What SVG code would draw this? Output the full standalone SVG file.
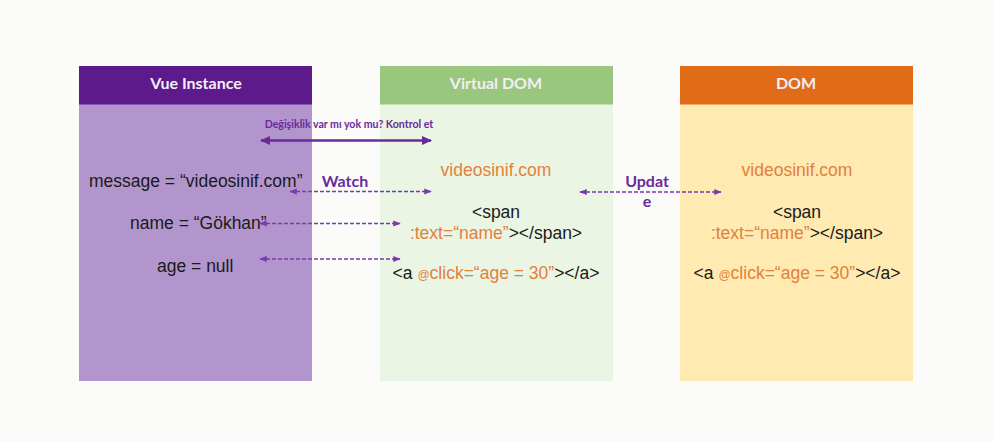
<svg xmlns="http://www.w3.org/2000/svg" width="994" height="442" viewBox="0 0 994 442">
  <style>
    .hdr{font-family:Lato,"Open Sans",sans-serif;font-weight:700;font-size:16px;fill:#F4EEF6;text-anchor:middle}
    .txt{font-family:"Liberation Sans",Arial,sans-serif;font-size:17.5px;fill:#1A1A1A}
    .mid{text-anchor:middle}
    .org{fill:#E3803D}
    .sm{font-size:12px}
    .lbl{font-family:Lato,"Open Sans",sans-serif;font-weight:700;fill:#6A2A9C}
    .dash{stroke:#7A3AAE;stroke-width:1.5;stroke-dasharray:4 2;fill:none}
    .solid{stroke:#6A2A9C;stroke-width:2.5;fill:none}
  </style>
  <defs>
    <marker id="ah" viewBox="0 0 10 10" refX="9" refY="5" markerWidth="5" markerHeight="5" orient="auto-start-reverse" markerUnits="strokeWidth">
      <path d="M0,1 L10,5 L0,9 Z" fill="#7A3AAE"/>
    </marker>
    <marker id="ahs" viewBox="0 0 10 10" refX="9" refY="5" markerWidth="4" markerHeight="4" orient="auto-start-reverse" markerUnits="strokeWidth">
      <path d="M0,0.5 L10,5 L0,9.5 Z" fill="#6A2A9C"/>
    </marker>
  </defs>
  <rect width="994" height="442" fill="#FBFBF9"/>

  <g id="vue-instance">
    <rect x="79" y="104" width="233" height="277" fill="#B395CD"/>
    <rect x="79" y="66" width="233" height="38.5" fill="#5C1A8A"/>
    <text class="hdr" x="196" y="89">Vue Instance</text>
    <text class="txt" x="89" y="187">message = “videosinif.com”</text>
    <text class="txt" x="130" y="228.5">name = “Gökhan”</text>
    <text class="txt" x="157" y="271.5">age = null</text>
  </g>

  <g id="virtual-dom">
    <rect x="380" y="104" width="233" height="277" fill="#EBF5E3"/>
    <rect x="380" y="66" width="233" height="38.5" fill="#9AC77E"/>
    <text class="hdr" x="496" y="89">Virtual DOM</text>
    <text class="txt mid org" x="496" y="176">videosinif.com</text>
    <text class="txt mid" x="496" y="218">&lt;span</text>
    <text class="txt mid" x="496" y="239"><tspan class="org">:text=“name”</tspan>&gt;&lt;/span&gt;</text>
    <text class="txt mid" x="496" y="279">&lt;a <tspan class="org sm">@</tspan><tspan class="org">click=“age = 30”</tspan>&gt;&lt;/a&gt;</text>
  </g>

  <g id="dom">
    <rect x="680" y="104" width="233" height="277" fill="#FFEAB1"/>
    <rect x="680" y="66" width="233" height="38.5" fill="#E06B19"/>
    <text class="hdr" x="796" y="89">DOM</text>
    <text class="txt mid org" x="797" y="176">videosinif.com</text>
    <text class="txt mid" x="797" y="218">&lt;span</text>
    <text class="txt mid" x="797" y="239"><tspan class="org">:text=“name”</tspan>&gt;&lt;/span&gt;</text>
    <text class="txt mid" x="797" y="279">&lt;a <tspan class="org sm">@</tspan><tspan class="org">click=“age = 30”</tspan>&gt;&lt;/a&gt;</text>
  </g>

  <g id="connectors">
    <line class="solid" x1="261" y1="140.5" x2="431" y2="140.5" marker-start="url(#ahs)" marker-end="url(#ahs)"/>
    <text class="lbl" x="349" y="128" font-size="10.6" text-anchor="middle">Değişiklik var mı yok mu? Kontrol et</text>
    <line class="dash" x1="290" y1="191.5" x2="431" y2="191.5" marker-start="url(#ah)" marker-end="url(#ah)"/>
    <text class="lbl" x="345" y="187" font-size="16" text-anchor="middle">Watch</text>
    <line class="dash" x1="260" y1="223.5" x2="400" y2="223.5" marker-start="url(#ah)" marker-end="url(#ah)"/>
    <line class="dash" x1="260" y1="259" x2="400" y2="259" marker-start="url(#ah)" marker-end="url(#ah)"/>
    <line class="dash" x1="580" y1="192" x2="721" y2="192" marker-start="url(#ah)" marker-end="url(#ah)"/>
    <text class="lbl" x="647" y="187" font-size="16" text-anchor="middle">Updat</text>
    <text class="lbl" x="647" y="207" font-size="16" text-anchor="middle">e</text>
  </g>
</svg>
